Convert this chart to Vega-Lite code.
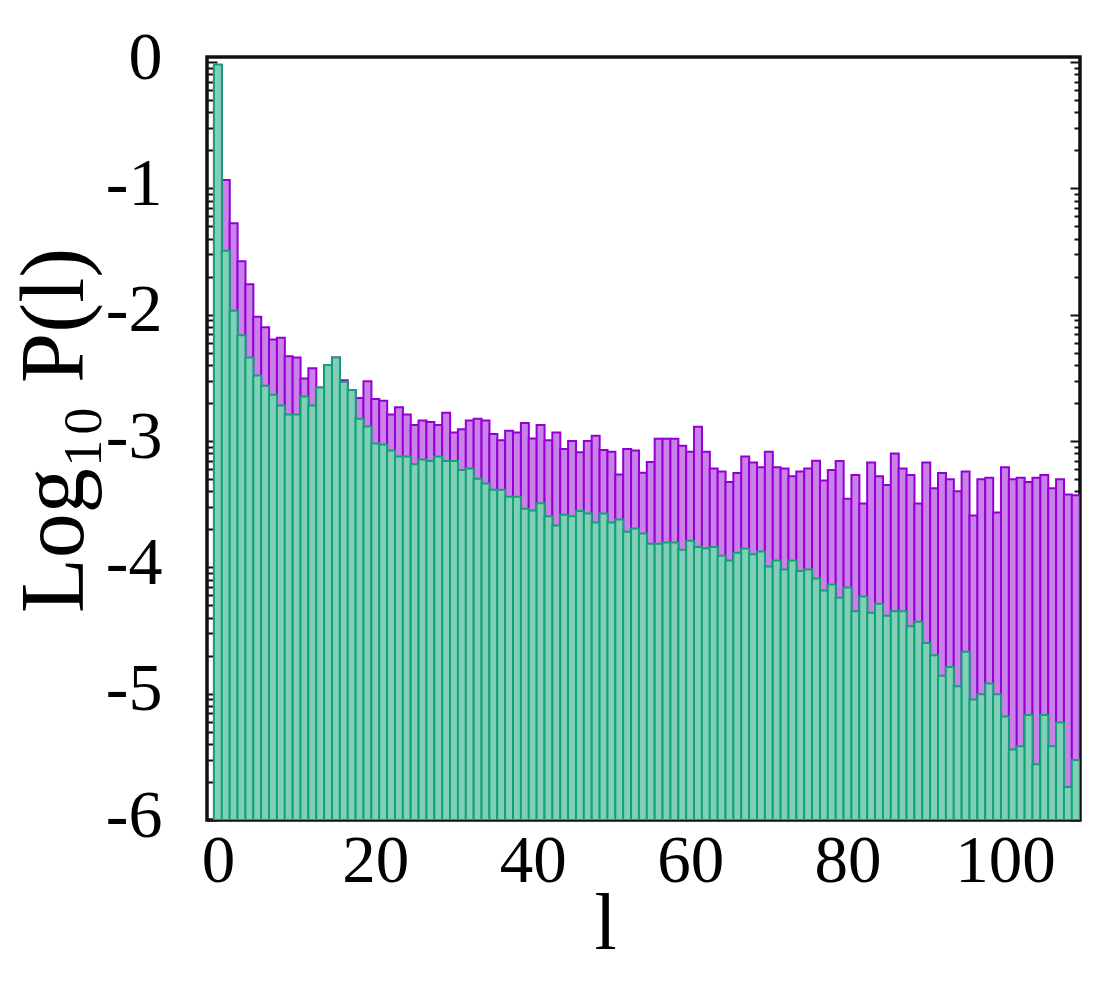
{
  "$schema": "https://vega.github.io/schema/vega-lite/v6.json",
  "width": 873,
  "height": 763,
  "autosize": "none",
  "padding": {"left": 207, "top": 57, "right": 15, "bottom": 170},
  "background": "white",
  "config": {"view": {"stroke": "#111111", "strokeWidth": 3.5}, "font": "Liberation Serif"},
  "datasets": {
    "purple": [
      {"l":0,"logP":-0.03},{"l":1,"logP":-0.934},{"l":2,"logP":-1.277},{"l":3,"logP":-1.576},{"l":4,"logP":-1.758},{"l":5,"logP":-2.016},{"l":6,"logP":-2.1},{"l":7,"logP":-2.196},{"l":8,"logP":-2.183},{"l":9,"logP":-2.328},
      {"l":10,"logP":-2.338},{"l":11,"logP":-2.505},{"l":12,"logP":-2.423},{"l":13,"logP":-2.576},{"l":14,"logP":-2.399},{"l":15,"logP":-2.338},{"l":16,"logP":-2.518},{"l":17,"logP":-2.597},{"l":18,"logP":-2.66},{"l":19,"logP":-2.526},
      {"l":20,"logP":-2.668},{"l":21,"logP":-2.681},{"l":22,"logP":-2.79},{"l":23,"logP":-2.732},{"l":24,"logP":-2.79},{"l":25,"logP":-2.874},{"l":26,"logP":-2.837},{"l":27,"logP":-2.85},{"l":28,"logP":-2.874},{"l":29,"logP":-2.777},
      {"l":30,"logP":-2.932},{"l":31,"logP":-2.906},{"l":32,"logP":-2.837},{"l":33,"logP":-2.824},{"l":34,"logP":-2.837},{"l":35,"logP":-2.945},{"l":36,"logP":-2.993},{"l":37,"logP":-2.919},{"l":38,"logP":-2.932},{"l":39,"logP":-2.858},
      {"l":40,"logP":-2.98},{"l":41,"logP":-2.874},{"l":42,"logP":-2.993},{"l":43,"logP":-2.932},{"l":44,"logP":-3.064},{"l":45,"logP":-3.0},{"l":46,"logP":-3.088},{"l":47,"logP":-3.0},{"l":48,"logP":-2.958},{"l":49,"logP":-3.072},
      {"l":50,"logP":-3.085},{"l":51,"logP":-3.265},{"l":52,"logP":-3.064},{"l":53,"logP":-3.075},{"l":54,"logP":-3.252},{"l":55,"logP":-3.167},{"l":56,"logP":-2.982},{"l":57,"logP":-2.982},{"l":58,"logP":-2.982},{"l":59,"logP":-3.038},
      {"l":60,"logP":-3.085},{"l":61,"logP":-2.887},{"l":62,"logP":-3.085},{"l":63,"logP":-3.217},{"l":64,"logP":-3.241},{"l":65,"logP":-3.325},{"l":66,"logP":-3.254},{"l":67,"logP":-3.122},{"l":68,"logP":-3.17},{"l":69,"logP":-3.207},
      {"l":70,"logP":-3.085},{"l":71,"logP":-3.207},{"l":72,"logP":-3.217},{"l":73,"logP":-3.278},{"l":74,"logP":-3.241},{"l":75,"logP":-3.217},{"l":76,"logP":-3.157},{"l":77,"logP":-3.312},{"l":78,"logP":-3.23},{"l":79,"logP":-3.159},
      {"l":80,"logP":-3.457},{"l":81,"logP":-3.268},{"l":82,"logP":-3.494},{"l":83,"logP":-3.17},{"l":84,"logP":-3.278},{"l":85,"logP":-3.349},{"l":86,"logP":-3.098},{"l":87,"logP":-3.217},{"l":88,"logP":-3.268},{"l":89,"logP":-3.494},
      {"l":90,"logP":-3.17},{"l":91,"logP":-3.373},{"l":92,"logP":-3.254},{"l":93,"logP":-3.302},{"l":94,"logP":-3.397},{"l":95,"logP":-3.241},{"l":96,"logP":-3.589},{"l":97,"logP":-3.302},{"l":98,"logP":-3.291},{"l":99,"logP":-3.565},
      {"l":100,"logP":-3.207},{"l":101,"logP":-3.302},{"l":102,"logP":-3.291},{"l":103,"logP":-3.325},{"l":104,"logP":-3.291},{"l":105,"logP":-3.268},{"l":106,"logP":-3.373},{"l":107,"logP":-3.302},{"l":108,"logP":-3.423},{"l":109,"logP":-3.43}
    ],
    "green": [
      {"l":0,"logP":-0.02},{"l":1,"logP":-1.494},{"l":2,"logP":-1.969},{"l":3,"logP":-2.162},{"l":4,"logP":-2.338},{"l":5,"logP":-2.481},{"l":6,"logP":-2.563},{"l":7,"logP":-2.634},{"l":8,"logP":-2.718},{"l":9,"logP":-2.79},
      {"l":10,"logP":-2.79},{"l":11,"logP":-2.647},{"l":12,"logP":-2.718},{"l":13,"logP":-2.576},{"l":14,"logP":-2.399},{"l":15,"logP":-2.338},{"l":16,"logP":-2.531},{"l":17,"logP":-2.597},{"l":18,"logP":-2.824},{"l":19,"logP":-2.885},
      {"l":20,"logP":-3.019},{"l":21,"logP":-3.027},{"l":22,"logP":-3.075},{"l":23,"logP":-3.122},{"l":24,"logP":-3.122},{"l":25,"logP":-3.183},{"l":26,"logP":-3.146},{"l":27,"logP":-3.159},{"l":28,"logP":-3.122},{"l":29,"logP":-3.159},
      {"l":30,"logP":-3.159},{"l":31,"logP":-3.23},{"l":32,"logP":-3.217},{"l":33,"logP":-3.299},{"l":34,"logP":-3.336},{"l":35,"logP":-3.386},{"l":36,"logP":-3.386},{"l":37,"logP":-3.442},{"l":38,"logP":-3.442},{"l":39,"logP":-3.537},
      {"l":40,"logP":-3.55},{"l":41,"logP":-3.492},{"l":42,"logP":-3.595},{"l":43,"logP":-3.668},{"l":44,"logP":-3.584},{"l":45,"logP":-3.595},{"l":46,"logP":-3.553},{"l":47,"logP":-3.574},{"l":48,"logP":-3.645},{"l":49,"logP":-3.574},
      {"l":50,"logP":-3.645},{"l":51,"logP":-3.621},{"l":52,"logP":-3.719},{"l":53,"logP":-3.692},{"l":54,"logP":-3.732},{"l":55,"logP":-3.814},{"l":56,"logP":-3.814},{"l":57,"logP":-3.803},{"l":58,"logP":-3.803},{"l":59,"logP":-3.861},
      {"l":60,"logP":-3.79},{"l":61,"logP":-3.838},{"l":62,"logP":-3.848},{"l":63,"logP":-3.838},{"l":64,"logP":-3.909},{"l":65,"logP":-3.946},{"l":66,"logP":-3.885},{"l":67,"logP":-3.851},{"l":68,"logP":-3.896},{"l":69,"logP":-3.875},
      {"l":70,"logP":-3.993},{"l":71,"logP":-3.946},{"l":72,"logP":-4.017},{"l":73,"logP":-3.946},{"l":74,"logP":-4.028},{"l":75,"logP":-4.017},{"l":76,"logP":-4.088},{"l":77,"logP":-4.183},{"l":78,"logP":-4.136},{"l":79,"logP":-4.241},
      {"l":80,"logP":-4.159},{"l":81,"logP":-4.347},{"l":82,"logP":-4.231},{"l":83,"logP":-4.36},{"l":84,"logP":-4.289},{"l":85,"logP":-4.384},{"l":86,"logP":-4.347},{"l":87,"logP":-4.347},{"l":88,"logP":-4.466},{"l":89,"logP":-4.431},
      {"l":90,"logP":-4.598},{"l":91,"logP":-4.695},{"l":92,"logP":-4.859},{"l":93,"logP":-4.788},{"l":94,"logP":-4.941},{"l":95,"logP":-4.669},{"l":96,"logP":-5.046},{"l":97,"logP":-5.004},{"l":98,"logP":-4.92},{"l":99,"logP":-5.004},
      {"l":100,"logP":-5.181},{"l":101,"logP":-5.442},{"l":102,"logP":-5.416},{"l":103,"logP":-5.168},{"l":104,"logP":-5.558},{"l":105,"logP":-5.168},{"l":106,"logP":-5.416},{"l":107,"logP":-5.228},{"l":108,"logP":-5.738},{"l":109,"logP":-5.526}
    ]
  },
  "layer": [
    {
      "data": {"name": "purple"},
      "mark": {"type": "bar", "size": 7.96, "fill": "#ca80e9", "stroke": "#9400d3", "strokeWidth": 2, "clip": true},
      "encoding": {
        "x": {"field": "l", "type": "quantitative",
          "scale": {"domain": [-0.75, 108.9], "nice": false, "zero": false},
          "axis": {"values": [0, 20, 40, 60, 80, 100], "ticks": false, "domain": false, "grid": false,
            "labelFont": "Liberation Serif", "labelFontSize": 67, "labelColor": "black", "labelPadding": 8,
            "labelFlush": false, "labelOverlap": false, "labelBound": false,
            "title": "l", "titleFont": "Liberation Serif", "titleFontSize": 80, "titleFontWeight": "normal", "titleColor": "black",
            "titleX": 398, "titleY": 128, "titleBaseline": "alphabetic", "titleAlign": "center"}},
        "y": {"field": "logP", "type": "quantitative",
          "scale": {"domain": [-6, 0.04], "nice": false, "zero": false},
          "axis": {"orient": "left", "domain": false, "grid": false,
            "values": [-6,-5.69897,-5.52288,-5.39794,-5.30103,-5.22185,-5.1549,-5.09691,-5.04576,-5,-4.69897,-4.52288,-4.39794,-4.30103,-4.22185,-4.1549,-4.09691,-4.04576,-4,-3.69897,-3.52288,-3.39794,-3.30103,-3.22185,-3.1549,-3.09691,-3.04576,-3,-2.69897,-2.52288,-2.39794,-2.30103,-2.22185,-2.1549,-2.09691,-2.04576,-2,-1.69897,-1.52288,-1.39794,-1.30103,-1.22185,-1.1549,-1.09691,-1.04576,-1,-0.69897,-0.52288,-0.39794,-0.30103,-0.22185,-0.1549,-0.09691,-0.04576,0],
            "tickColor": "#111111", "tickWidth": 2,
            "tickSize": {"condition": {"test": "datum.value % 1 === 0", "value": -10}, "value": -6},
            "labelExpr": "datum.value % 1 === 0 ? '' + datum.value : ''",
            "labelFont": "Liberation Serif", "labelFontSize": 68, "labelColor": "black", "labelPadding": 55, "labelOffset": -4,
            "labelOverlap": false, "labelBound": false, "labelFlush": false,
            "title": "Log₁₀ P(l)", "titleFont": "Liberation Serif", "titleFontSize": 90, "titleFontWeight": "normal", "titleColor": "black",
            "titleX": -125, "titleY": 373, "titleAngle": -90, "titleBaseline": "alphabetic", "titleAlign": "center"}},
        "y2": {"datum": -6}
      }
    },
    {
      "data": {"name": "green"},
      "mark": {"type": "bar", "size": 7.96, "fill": "#80cfb9", "stroke": "#15a077", "strokeWidth": 2, "clip": true},
      "encoding": {
        "x": {"field": "l", "type": "quantitative",
          "scale": {"domain": [-0.75, 108.9], "nice": false, "zero": false},
          "axis": {"values": [0, 20, 40, 60, 80, 100], "ticks": false, "domain": false, "grid": false,
            "labelFont": "Liberation Serif", "labelFontSize": 67, "labelColor": "black", "labelPadding": 8,
            "labelFlush": false, "labelOverlap": false, "labelBound": false,
            "title": "l", "titleFont": "Liberation Serif", "titleFontSize": 80, "titleFontWeight": "normal", "titleColor": "black",
            "titleX": 398, "titleY": 128, "titleBaseline": "alphabetic", "titleAlign": "center"}},
        "y": {"field": "logP", "type": "quantitative",
          "scale": {"domain": [-6, 0.04], "nice": false, "zero": false},
          "axis": {"orient": "right", "domain": false, "grid": false, "labels": false, "title": null,
            "values": [-6,-5.69897,-5.52288,-5.39794,-5.30103,-5.22185,-5.1549,-5.09691,-5.04576,-5,-4.69897,-4.52288,-4.39794,-4.30103,-4.22185,-4.1549,-4.09691,-4.04576,-4,-3.69897,-3.52288,-3.39794,-3.30103,-3.22185,-3.1549,-3.09691,-3.04576,-3,-2.69897,-2.52288,-2.39794,-2.30103,-2.22185,-2.1549,-2.09691,-2.04576,-2,-1.69897,-1.52288,-1.39794,-1.30103,-1.22185,-1.1549,-1.09691,-1.04576,-1,-0.69897,-0.52288,-0.39794,-0.30103,-0.22185,-0.1549,-0.09691,-0.04576,0],
            "tickColor": "#111111", "tickWidth": 2,
            "tickSize": {"condition": {"test": "datum.value % 1 === 0", "value": -10}, "value": -6}}},
        "y2": {"datum": -6}
      }
    }
  ],
  "resolve": {"axis": {"y": "independent"}}
}
